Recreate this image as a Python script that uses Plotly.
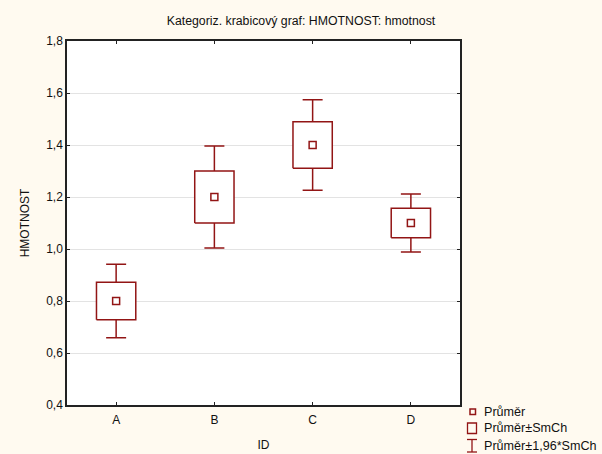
import plotly.graph_objects as go

categories = ["A", "B", "C", "D"]
means = [0.80, 1.20, 1.40, 1.10]
std_errors = [0.072, 0.100, 0.089, 0.057]

RED = "#921515"
FONT = "Liberation Sans, Arial, sans-serif"
BOX_HALF = 0.2

W, H = 602, 454
L, R, T, B = 67, 142, 41, 49

xs = list(range(len(categories)))
fig = go.Figure()

# whiskers: mean +- 1.96*SE
fig.add_trace(go.Scatter(
    x=xs, y=means, mode="markers",
    marker=dict(size=1, color="rgba(0,0,0,0)"),
    error_y=dict(type="data", array=[1.96 * s for s in std_errors], visible=True,
                 color=RED, thickness=1.5, width=10),
    showlegend=False, hoverinfo="skip"))

# boxes: mean +- SE
for i, (m, s) in enumerate(zip(means, std_errors)):
    fig.add_trace(go.Scatter(
        x=[i - BOX_HALF, i + BOX_HALF, i + BOX_HALF, i - BOX_HALF, i - BOX_HALF],
        y=[m - s, m - s, m + s, m + s, m - s],
        mode="lines", fill="toself", fillcolor="white",
        line=dict(color=RED, width=1.5), showlegend=False, hoverinfo="skip"))

# means
fig.add_trace(go.Scatter(
    x=xs, y=means, mode="markers",
    marker=dict(symbol="square-open", size=7, color=RED, line=dict(width=1.5, color=RED)),
    showlegend=False))

# manual legend (pixel -> paper)
def px(xp):
    return (xp - L) / (W - L - R)

def py(yp):
    return (H - B - yp) / (H - T - B)

shapes = []
shapes.append(dict(type="rect", xref="paper", yref="paper",
                   x0=px(470), x1=px(475.5), y0=py(414.5), y1=py(409),
                   line=dict(color=RED, width=1.5)))
shapes.append(dict(type="rect", xref="paper", yref="paper",
                   x0=px(467.5), x1=px(476.5), y0=py(433.5), y1=py(423),
                   line=dict(color=RED, width=1.3)))
shapes.append(dict(type="line", xref="paper", yref="paper",
                   x0=px(472), x1=px(472), y0=py(452), y1=py(439.5),
                   line=dict(color=RED, width=1.3)))
shapes.append(dict(type="line", xref="paper", yref="paper",
                   x0=px(467), x1=px(477), y0=py(439.5), y1=py(439.5),
                   line=dict(color=RED, width=1.3)))
shapes.append(dict(type="line", xref="paper", yref="paper",
                   x0=px(467), x1=px(477), y0=py(452), y1=py(452),
                   line=dict(color=RED, width=1.3)))

legend_texts = ["Průměr", "Průměr±SmCh", "Průměr±1,96*SmCh"]
legend_y = [411.5, 428, 445.5]
annotations = []
for t, yy in zip(legend_texts, legend_y):
    annotations.append(dict(text=t, xref="paper", yref="paper", x=px(482), y=py(yy),
                            xanchor="left", yanchor="middle", showarrow=False,
                            font=dict(family=FONT, size=12.6, color="#111")))

fig.update_layout(
    width=W, height=H,
    margin=dict(l=L, r=R, t=T, b=B, autoexpand=False),
    paper_bgcolor="#FFFAF0", plot_bgcolor="white",
    separators=", ",
    font=dict(family=FONT, size=12, color="#111"),
    title=dict(text="Kategoriz. krabicový graf: HMOTNOST: hmotnost",
               x=0.5, xanchor="center", y=1 - 21 / H, yanchor="middle",
               font=dict(family=FONT, size=12.3, color="#111")),
    shapes=shapes, annotations=annotations,
    showlegend=False,
)
fig.update_xaxes(
    range=[-0.5, 3.5], tickvals=xs, ticktext=categories,
    ticks="inside", ticklen=3, tickcolor="#222", automargin=False,
    showline=True, linecolor="#222", linewidth=1.5, mirror="ticks",
    showgrid=False, zeroline=False, ticklabelstandoff=3,
    title=dict(text="ID", standoff=14, font=dict(size=12)),
)
fig.update_yaxes(
    range=[0.4, 1.8], dtick=0.2, tick0=0.4, tickformat=".1f",
    ticks="inside", ticklen=3, tickcolor="#222", automargin=False,
    showline=True, linecolor="#222", linewidth=1.5, mirror="ticks",
    showgrid=True, gridcolor="#E3E3E3", gridwidth=1, zeroline=False,
    title=dict(text="HMOTNOST", standoff=14, font=dict(size=12)),
)

fig.write_html("out.html",
               config={"displayModeBar": False, "responsive": False},
               post_script="document.body.style.margin='0';")
